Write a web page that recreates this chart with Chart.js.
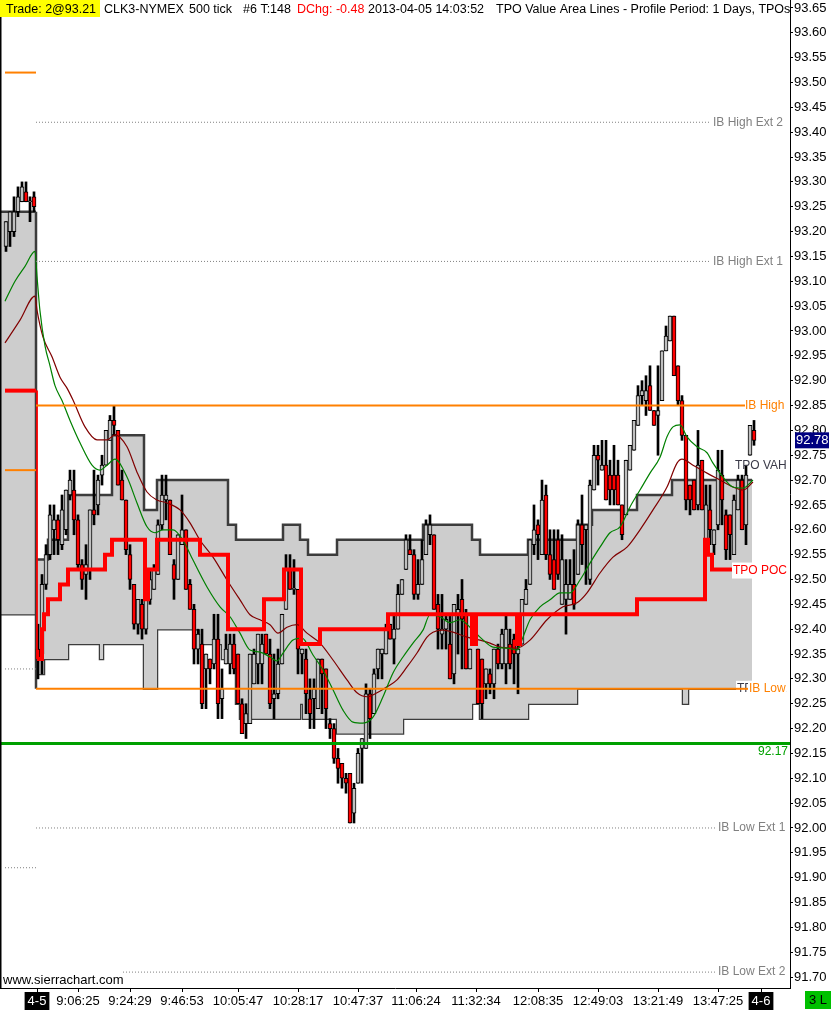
<!DOCTYPE html>
<html>
<head>
<meta charset="utf-8">
<script src="https://cdn.jsdelivr.net/npm/chart.js@4.4.1/dist/chart.umd.min.js"></script>
<style>
  html, body { margin: 0; padding: 0; background: #fff; }
  #wrap { width: 832px; height: 1010px; }
</style>
</head>
<body>
<div id="wrap"><canvas id="myChart"></canvas></div>
<script>
'use strict';
Chart.defaults.font.family = "'Liberation Sans', Arial, sans-serif";
Chart.defaults.font.size = 13;
Chart.defaults.color = '#000';

// 500 tick bars, index 0 = first bar of 2013-04-05 session, negatives = previous session
var firstBar = -8;
var open = [
  93.17, 93.20, 93.20, 93.24, 93.26, 93.28, 93.26, 93.27,
  92.36, 92.35, 92.49, 92.55, 92.60, 92.62, 92.57, 92.60, 92.67, 92.68,
  92.62, 92.53, 92.51, 92.52, 92.64, 92.65, 92.71, 92.73, 92.78, 92.82,
  92.80, 92.70, 92.66, 92.55, 92.49, 92.41, 92.45, 92.40, 92.46, 92.48,
  92.51, 92.61, 92.66, 92.66, 92.53, 92.50, 92.57, 92.60, 92.49, 92.44,
  92.36, 92.37, 92.32, 92.34, 92.33, 92.38, 92.26, 92.33, 92.33, 92.37,
  92.35, 92.25, 92.21, 92.21, 92.29, 92.33, 92.33, 92.39, 92.35, 92.26,
  92.27, 92.33, 92.44, 92.52, 92.48, 92.48, 92.35, 92.34, 92.26, 92.26,
  92.24, 92.34, 92.32, 92.21, 92.20, 92.14, 92.13, 92.10, 92.11, 92.03,
  92.09, 92.16, 92.16, 92.27, 92.23, 92.32, 92.35, 92.35, 92.41, 92.38,
  92.40, 92.47, 92.52, 92.56, 92.55, 92.47, 92.49, 92.55, 92.59, 92.59,
  92.45, 92.39, 92.40, 92.37, 92.31, 92.43, 92.46, 92.43, 92.32, 92.43,
  92.36, 92.34, 92.29, 92.31, 92.29, 92.36, 92.33, 92.33, 92.37, 92.38,
  92.35, 92.37, 92.45, 92.49, 92.57, 92.61, 92.55, 92.67, 92.55, 92.54,
  92.58, 92.45, 92.46, 92.46, 92.49, 92.51, 92.61, 92.60, 92.50, 92.68,
  92.75, 92.72, 92.73, 92.71, 92.71, 92.71, 92.65, 92.63, 92.72, 92.76,
  92.81, 92.87, 92.86, 92.89, 92.84, 92.83, 92.86, 92.96, 92.98, 93.03,
  92.93, 92.86, 92.79, 92.69, 92.70, 92.65, 92.74, 92.58, 92.64, 92.57,
  92.61, 92.71, 92.63, 92.63, 92.55, 92.64, 92.70, 92.61, 92.75, 92.80
];
var high = [
  93.22, 93.24, 93.27, 93.29, 93.30, 93.30, 93.27, 93.28,
  92.41, 92.51, 92.57, 92.65, 92.65, 92.63, 92.67, 92.68, 92.72, 92.72,
  92.63, 92.54, 92.57, 92.64, 92.72, 92.71, 92.75, 92.80, 92.83, 92.85,
  92.80, 92.72, 92.66, 92.57, 92.49, 92.46, 92.46, 92.46, 92.52, 92.53,
  92.62, 92.71, 92.71, 92.66, 92.54, 92.59, 92.67, 92.60, 92.50, 92.45,
  92.40, 92.40, 92.35, 92.34, 92.43, 92.43, 92.32, 92.39, 92.39, 92.39,
  92.35, 92.26, 92.25, 92.35, 92.36, 92.39, 92.39, 92.39, 92.38, 92.35,
  92.36, 92.43, 92.55, 92.55, 92.54, 92.48, 92.36, 92.36, 92.30, 92.30,
  92.34, 92.34, 92.32, 92.22, 92.21, 92.16, 92.13, 92.11, 92.11, 92.09,
  92.16, 92.18, 92.29, 92.28, 92.32, 92.36, 92.36, 92.41, 92.41, 92.43,
  92.49, 92.50, 92.59, 92.59, 92.56, 92.54, 92.58, 92.62, 92.63, 92.59,
  92.47, 92.47, 92.43, 92.43, 92.45, 92.47, 92.50, 92.44, 92.36, 92.43,
  92.36, 92.34, 92.32, 92.32, 92.36, 92.37, 92.40, 92.43, 92.40, 92.39,
  92.39, 92.46, 92.50, 92.58, 92.65, 92.62, 92.70, 92.69, 92.60, 92.60,
  92.60, 92.59, 92.54, 92.54, 92.56, 92.62, 92.67, 92.61, 92.70, 92.77,
  92.77, 92.78, 92.78, 92.74, 92.77, 92.74, 92.65, 92.74, 92.77, 92.82,
  92.89, 92.90, 92.91, 92.93, 92.84, 92.93, 92.96, 93.01, 93.03, 93.03,
  92.93, 92.87, 92.79, 92.69, 92.70, 92.80, 92.74, 92.69, 92.69, 92.60,
  92.76, 92.76, 92.64, 92.63, 92.67, 92.71, 92.71, 92.73, 92.81, 92.82
];
var low = [
  93.16, 93.17, 93.19, 93.23, 93.26, 93.26, 93.22, 93.24,
  92.30, 92.31, 92.48, 92.54, 92.55, 92.55, 92.56, 92.59, 92.66, 92.59,
  92.52, 92.48, 92.46, 92.50, 92.61, 92.63, 92.69, 92.73, 92.78, 92.79,
  92.69, 92.66, 92.55, 92.48, 92.40, 92.39, 92.38, 92.39, 92.45, 92.48,
  92.51, 92.60, 92.62, 92.55, 92.46, 92.50, 92.57, 92.48, 92.44, 92.33,
  92.33, 92.24, 92.24, 92.29, 92.32, 92.22, 92.22, 92.33, 92.31, 92.31,
  92.25, 92.19, 92.18, 92.21, 92.29, 92.29, 92.29, 92.35, 92.24, 92.22,
  92.26, 92.33, 92.44, 92.48, 92.47, 92.31, 92.31, 92.23, 92.20, 92.20,
  92.24, 92.23, 92.20, 92.18, 92.13, 92.09, 92.08, 92.07, 92.01, 92.01,
  92.09, 92.09, 92.16, 92.18, 92.23, 92.30, 92.30, 92.35, 92.38, 92.33,
  92.40, 92.47, 92.52, 92.55, 92.46, 92.46, 92.49, 92.55, 92.57, 92.44,
  92.36, 92.36, 92.36, 92.30, 92.29, 92.35, 92.32, 92.32, 92.32, 92.37,
  92.25, 92.22, 92.26, 92.27, 92.26, 92.32, 92.32, 92.29, 92.32, 92.29,
  92.27, 92.37, 92.45, 92.49, 92.55, 92.54, 92.55, 92.54, 92.50, 92.48,
  92.50, 92.45, 92.39, 92.46, 92.44, 92.51, 92.53, 92.49, 92.49, 92.68,
  92.69, 92.72, 92.66, 92.65, 92.65, 92.65, 92.58, 92.63, 92.72, 92.76,
  92.81, 92.85, 92.83, 92.84, 92.81, 92.75, 92.86, 92.96, 92.98, 92.91,
  92.85, 92.78, 92.64, 92.63, 92.64, 92.64, 92.64, 92.58, 92.57, 92.55,
  92.60, 92.61, 92.54, 92.54, 92.55, 92.64, 92.60, 92.57, 92.75, 92.77
];
var close = [
  93.22, 93.24, 93.24, 93.27, 93.29, 93.26, 93.26, 93.25,
  92.34, 92.49, 92.55, 92.63, 92.62, 92.58, 92.64, 92.68, 92.70, 92.62,
  92.53, 92.50, 92.53, 92.64, 92.63, 92.70, 92.73, 92.80, 92.82, 92.81,
  92.69, 92.66, 92.56, 92.50, 92.41, 92.46, 92.40, 92.46, 92.50, 92.52,
  92.61, 92.67, 92.67, 92.55, 92.50, 92.59, 92.60, 92.48, 92.44, 92.36,
  92.39, 92.25, 92.35, 92.32, 92.38, 92.25, 92.28, 92.36, 92.37, 92.32,
  92.25, 92.19, 92.23, 92.35, 92.35, 92.39, 92.37, 92.35, 92.25, 92.27,
  92.33, 92.43, 92.52, 92.48, 92.48, 92.36, 92.36, 92.27, 92.23, 92.28,
  92.34, 92.31, 92.24, 92.20, 92.14, 92.12, 92.10, 92.09, 92.01, 92.08,
  92.15, 92.18, 92.27, 92.22, 92.31, 92.36, 92.36, 92.40, 92.38, 92.40,
  92.47, 92.50, 92.58, 92.55, 92.47, 92.49, 92.54, 92.61, 92.61, 92.44,
  92.40, 92.40, 92.42, 92.30, 92.45, 92.44, 92.42, 92.32, 92.36, 92.37,
  92.25, 92.25, 92.32, 92.29, 92.36, 92.33, 92.39, 92.40, 92.33, 92.35,
  92.36, 92.46, 92.48, 92.58, 92.60, 92.59, 92.66, 92.55, 92.51, 92.48,
  92.51, 92.54, 92.49, 92.49, 92.45, 92.61, 92.57, 92.61, 92.69, 92.75,
  92.74, 92.73, 92.66, 92.68, 92.68, 92.65, 92.59, 92.74, 92.77, 92.82,
  92.87, 92.88, 92.88, 92.84, 92.81, 92.84, 92.96, 92.99, 93.03, 92.91,
  92.86, 92.79, 92.66, 92.66, 92.64, 92.73, 92.64, 92.65, 92.60, 92.60,
  92.72, 92.66, 92.56, 92.59, 92.66, 92.70, 92.60, 92.71, 92.81, 92.78
];

// developing TPO value area (step starts, bar index)
var vaIdx = [-0.25, 1.5, 2.5, 7.5, 15.5, 16.25, 18.5, 26.5, 29.75, 40.5, 46, 47.5, 49.5, 50.5, 61.25, 65.5,
  66.25, 67.5, 74.75, 91.25, 96.25, 108.5, 110.5, 122.5, 134.75, 138.5, 149.75, 158.5, 161.25, 162.5, 178.5];
var vaHigh = [92.54, 92.54, 92.58, 92.67, 92.67, 92.67, 92.79, 92.64, 92.70, 92.70, 92.70, 92.61, 92.58, 92.58, 92.61, 92.58,
  92.58, 92.55, 92.58, 92.58, 92.61, 92.58, 92.55, 92.58, 92.61, 92.64, 92.67, 92.70, 92.70, 92.70, 92.70];
var vaLow = [92.31, 92.34, 92.34, 92.37, 92.34, 92.37, 92.37, 92.28, 92.40, 92.37, 92.34, 92.34, 92.25, 92.22, 92.22, 92.25,
  92.22, 92.22, 92.19, 92.22, 92.22, 92.25, 92.22, 92.25, 92.28, 92.28, 92.28, 92.28, 92.25, 92.28, 92.28];

// developing TPO POC
var pocIdx = [-0.25, 1, 1.5, 2.5, 5.5, 7.5, 16.75, 18.5, 26.75, 27.5, 29.75, 40.5, 47.5, 56.5, 61.5, 65.75,
  70.5, 87.5, 108.5, 109.5, 119.75, 120.5, 149.75, 166.75, 167.5, 168.5, 173.75];
var pocVal = [92.34, 92.40, 92.43, 92.46, 92.49, 92.52, 92.55, 92.58, 92.46, 92.52, 92.58, 92.55, 92.40, 92.46, 92.52, 92.37,
  92.40, 92.43, 92.37, 92.43, 92.37, 92.43, 92.46, 92.58, 92.55, 92.52, 92.52];

// moving averages
var maFastIdx = [-8.25, -5.75, -3.25, -0.75, -0.25, 0.5, 1.75, 3, 4.25, 6, 8, 10.5, 13.5, 15.5, 17.25, 19.25, 22.25, 24.75,
  27.25, 29.25, 31.25, 33.75, 36.25, 38.75, 42.25, 45.5, 48, 50.5, 53, 55.5, 58, 59.75, 61.25, 63.75, 66, 68.75, 71.25,
  73.75, 76.25, 78.75, 81.25, 83.75, 86.25, 88.75, 91.25, 93.75, 96.25, 98, 100.5, 103, 105.5, 108, 110.5, 113.75,
  117.25, 119.75, 121.25, 123, 125.5, 128, 130.5, 133, 135.5, 138, 140.5, 143, 145.5, 148, 150.5, 153, 155.5, 157.25,
  158.75, 160.5, 162.25, 164.75, 167.25, 168.75, 171.25, 173.75, 176.25, 178.75];
var maFast = [93.06, 93.10, 93.13, 93.16, 93.11, 93.04, 92.97, 92.93, 92.89, 92.86, 92.82, 92.775, 92.73, 92.72, 92.73,
  92.742, 92.706, 92.654, 92.606, 92.594, 92.60, 92.60, 92.579, 92.539, 92.485, 92.445, 92.425, 92.392, 92.358, 92.354,
  92.344, 92.336, 92.352, 92.378, 92.382, 92.348, 92.318, 92.278, 92.237, 92.213, 92.211, 92.223, 92.264, 92.312,
  92.344, 92.372, 92.398, 92.429, 92.425, 92.413, 92.419, 92.404, 92.384, 92.364, 92.362, 92.358, 92.384, 92.419,
  92.445, 92.459, 92.473, 92.473, 92.499, 92.533, 92.565, 92.594, 92.606, 92.646, 92.68, 92.714, 92.746, 92.787,
  92.807, 92.811, 92.787, 92.767, 92.755, 92.734, 92.706, 92.686, 92.684, 92.70];
var maSlowIdx = [-8.25, -4.5, -0.75, -0.25, 1.25, 3.5, 5.5, 7.25, 8.75, 11.75, 14.75, 17.25, 19.25, 22.25, 24.75, 27.25,
  29.75, 32.25, 35.5, 38, 40.5, 43.75, 47.25, 50.5, 53, 55.5, 58, 60, 62.25, 64.75, 67.25, 70.5, 73.75, 77.25, 79.75,
  82.25, 84.75, 87.25, 89.75, 92.25, 94.75, 97.25, 98.75, 101.25, 103.75, 107.25, 110.5, 113, 115.5, 119.75, 123,
  127.25, 131.25, 134.75, 137.25, 140.5, 143.75, 147.25, 150.5, 153.75, 157.25, 159.75, 161, 163.75, 167.25, 170.5,
  173.75, 176.25, 178.75];
var maSlow = [92.976, 93.022, 93.07, 93.042, 92.988, 92.948, 92.907, 92.885, 92.861, 92.807, 92.781, 92.781, 92.791,
  92.767, 92.716, 92.676, 92.66, 92.654, 92.64, 92.614, 92.579, 92.545, 92.499, 92.459, 92.429, 92.419, 92.409, 92.392,
  92.404, 92.409, 92.392, 92.372, 92.338, 92.298, 92.272, 92.264, 92.272, 92.284, 92.298, 92.324, 92.352, 92.384,
  92.394, 92.398, 92.394, 92.384, 92.378, 92.372, 92.364, 92.362, 92.378, 92.419, 92.445, 92.453, 92.473, 92.513,
  92.545, 92.565, 92.60, 92.64, 92.686, 92.734, 92.742, 92.73, 92.714, 92.70, 92.686, 92.68, 92.696];

// initial balance levels for the session
var levelNames = ['IB High Ext 2', 'IB High Ext 1', 'IB High', 'IB Low', 'IB Low Ext 1', 'IB Low Ext 2'];
var levelPrices = [93.42, 93.14, 92.85, 92.28, 92.00, 91.71];
var levelEnds = [168, 168, 176.75, 177.75, 169.25, 169.25];
var supportPrice = 92.17;

// previous session
var prevProfile = [93.24, 92.43];
var prevIbLevels = [93.52, 92.72];
var prevExtLevels = [92.32, 91.92];
var prevPoc = 92.88;

// x axis labels
var timeIdx = [-0.25, 10, 23, 36, 50, 65, 80, 94.5, 109.5, 125, 140, 155, 170, 180.75];
var timeText = ['4-5', '9:06:25', '9:24:29', '9:46:53', '10:05:47', '10:28:17', '10:47:37', '11:06:24',
  '11:32:34', '12:08:35', '12:49:03', '13:21:49', '13:47:25', '4-6'];

var wicks = [], bodies = [];
for (var i = 0; i < open.length; i++) {
  wicks.push({x: firstBar + i, y: [low[i], high[i]]});
  bodies.push({x: firstBar + i, y: [open[i], close[i]], up: close[i] >= open[i]});
}

function pts(xs, ys) {
  return xs.map(function (x, k) { return {x: x, y: ys[k]}; });
}
function hline(price, from, to) {
  return [{x: from, y: price}, {x: to, y: price}];
}
function line(data, color, width, extra) {
  return Object.assign({
    type: 'line', data: data, borderColor: color, borderWidth: width,
    pointRadius: 0, fill: false, tension: 0
  }, extra || {});
}

var OUTLINE = '#3c3c3c', SHADE = '#cdcdcd', ORANGE = '#ff8000', GRAY = '#808080', LABEL = '#3a3a48';

var datasets = [
  line(hline(prevProfile[0], -9.5, -0.5), OUTLINE, 2.5, {fill: '+1', backgroundColor: SHADE, order: 30}),
  line(hline(prevProfile[1], -9.5, -0.5), OUTLINE, 2.5, {order: 31}),
  line(pts(vaIdx, vaHigh), OUTLINE, 2.5, {stepped: true, fill: '+1', backgroundColor: SHADE, order: 20}),
  line(pts(vaIdx, vaLow), OUTLINE, 2.5, {stepped: true, order: 21}),
  line([{x: -0.5, y: prevProfile[0]}, {x: -0.5, y: levelPrices[3]}], OUTLINE, 2.5, {order: 19}),
  {
    type: 'bar', data: wicks, backgroundColor: '#000', barThickness: 2, grouped: false, order: 12
  },
  {
    type: 'bar', data: bodies, barThickness: 4, grouped: false, order: 11,
    borderWidth: 1, borderColor: '#000', borderSkipped: false, minBarLength: 1,
    backgroundColor: function (c) { return c.raw && c.raw.up ? '#c0c0c0' : '#ff0000'; }
  },
  line(pts(maSlowIdx, maSlow), '#800000', 1.2, {cubicInterpolationMode: 'monotone', order: 9}),
  line(pts(maFastIdx, maFast), '#008000', 1.2, {cubicInterpolationMode: 'monotone', order: 8}),
  line(hline(prevPoc, -8.25, -0.5), '#ff0000', 4, {order: 6}),
  line([{x: -0.25, y: prevPoc}, {x: -0.25, y: pocVal[0]}], '#ff0000', 1, {order: 6}),
  line(pts(pocIdx, pocVal), '#ff0000', 4, {stepped: true, order: 5}),
  line(hline(supportPrice, -9.5, 188), '#00a000', 3, {order: 1})
];
prevIbLevels.forEach(function (p) {
  datasets.push(line(hline(p, -8.25, -0.5), ORANGE, 2, {order: 2}));
});
prevExtLevels.forEach(function (p) {
  datasets.push(line(hline(p, -8.25, -0.5), GRAY, 1, {borderDash: [1, 2], order: 2}));
});
levelNames.forEach(function (name, k) {
  var ext = name.indexOf('Ext') >= 0;
  datasets.push(line(hline(levelPrices[k], -0.5, levelEnds[k]), ext ? GRAY : ORANGE, ext ? 1 : 2,
    ext ? {borderDash: [1, 2], order: 2} : {order: 2}));
});

function text(ctx, s, x, y, color, bg) {
  if (bg) {
    var w = ctx.measureText(s).width;
    ctx.fillStyle = '#fff';
    ctx.fillRect(x - 1, y - 8, w + 2, 16);
  }
  ctx.fillStyle = color;
  ctx.fillText(s, x, y);
}
var LABEL_FONT = "12px 'Liberation Sans', Arial, sans-serif";

var overlay = {
  id: 'overlay',
  afterDatasetsDraw: function (chart) {
    var ctx = chart.ctx, xs = chart.scales.x, ys = chart.scales.y, area = chart.chartArea;
    ctx.save();
    ctx.font = LABEL_FONT;
    ctx.textBaseline = 'middle';
    ctx.textAlign = 'left';
    levelNames.forEach(function (name, k) {
      var y = ys.getPixelForValue(levelPrices[k]);
      if (name === 'IB Low') {
        // value area low label sits under the IB Low line end and label
        var x0 = xs.getPixelForValue(174.75), x1 = xs.getPixelForValue(levelEnds[k]);
        text(ctx, 'TPO VAL', x0, y, LABEL, true);
        ctx.strokeStyle = ORANGE;
        ctx.lineWidth = 2;
        ctx.beginPath();
        ctx.moveTo(x0 - 1, y);
        ctx.lineTo(x1, y);
        ctx.stroke();
        text(ctx, name, x1, y, ORANGE, true);
      } else if (name === 'IB High') {
        text(ctx, name, xs.getPixelForValue(levelEnds[k]), y, ORANGE, false);
      } else {
        text(ctx, name, xs.getPixelForValue(levelEnds[k] + 0.75), y, GRAY, false);
      }
    });
    text(ctx, 'TPO VAH', xs.getPixelForValue(174.25), ys.getPixelForValue(vaHigh[vaHigh.length - 1]) - 14, LABEL, false);
    text(ctx, 'TPO POC', xs.getPixelForValue(173.75), ys.getPixelForValue(pocVal[pocVal.length - 1]) + 1, '#ff0000', true);
    ctx.textAlign = 'right';
    text(ctx, supportPrice.toFixed(2), area.right - 2, ys.getPixelForValue(supportPrice) + 8, '#00a000', false);
    ctx.restore();
  },
  afterDraw: function (chart) {
    var ctx = chart.ctx, ys = chart.scales.y, area = chart.chartArea;
    ctx.save();
    // chart frame left edge
    ctx.strokeStyle = '#000';
    ctx.lineWidth = 1.5;
    ctx.beginPath();
    ctx.moveTo(0.75, 0);
    ctx.lineTo(0.75, area.bottom);
    ctx.stroke();

    ctx.textBaseline = 'middle';
    ctx.textAlign = 'left';
    ctx.save();
    ctx.beginPath();
    ctx.rect(0, 0, area.right, 24);
    ctx.clip();
    ctx.fillStyle = '#ffff00';
    ctx.fillRect(0, 0, 100, 17);
    ctx.font = "12.5px 'Liberation Sans', Arial, sans-serif";
    var header = [
      ['Trade: 2@93.21', 6, '#000'],
      ['CLK3-NYMEX', 104, '#000'],
      ['500 tick', 189, '#000'],
      ['#6 T:148', 243, '#000'],
      ['DChg: -0.48', 297, '#ff0000'],
      ['2013-04-05 14:03:52', 368, '#000'],
      ['TPO Value Area Lines - Profile Period: 1 Days, TPOs', 496, '#000']
    ];
    header.forEach(function (h) { ctx.fillStyle = h[2]; ctx.fillText(h[0], h[1], 9.5); });
    ctx.restore();

    ctx.font = "13px 'Liberation Sans', Arial, sans-serif";
    ctx.fillStyle = '#fff';
    ctx.fillRect(2, 971, 120, area.bottom - 972);
    ctx.fillStyle = '#000';
    ctx.fillText('www.sierrachart.com', 3, 980);

    // last price marker
    var lp = close[close.length - 1];
    var y = ys.getPixelForValue(lp);
    ctx.fillStyle = '#000080';
    ctx.fillRect(795, y - 8, 34, 16);
    ctx.fillStyle = '#fff';
    ctx.fillText(lp.toFixed(2), 796, y);

    // bar period box
    ctx.fillStyle = '#00c000';
    ctx.fillRect(805, area.bottom + 3, 26, 18);
    ctx.fillStyle = '#000';
    ctx.textAlign = 'center';
    ctx.fillText('3 L', 818, area.bottom + 12);
    ctx.restore();
  }
};

var ctx = document.getElementById('myChart').getContext('2d');
var myChart = new Chart(ctx, {
  type: 'bar',
  data: {datasets: datasets},
  options: {
    responsive: true,
    maintainAspectRatio: false,
    animation: false,
    events: [],
    layout: {padding: 0},
    plugins: {legend: {display: false}, tooltip: {enabled: false}},
    scales: {
      x: {
        type: 'linear', min: -9.5, max: 188, offset: false,
        grid: {drawOnChartArea: false, drawTicks: true, tickLength: 4, color: '#000', offset: false},
        border: {display: true, color: '#000', width: 1},
        ticks: {
          autoSkip: false, maxRotation: 0, padding: 2,
          showLabelBackdrop: true,
          backdropPadding: {top: 2, bottom: 1, left: 3, right: 3},
          backdropColor: function (c) { return c.index === 0 || c.index === timeText.length - 1 ? '#000' : 'rgba(0,0,0,0)'; },
          color: function (c) { return c.index === 0 || c.index === timeText.length - 1 ? '#fff' : '#000'; },
          callback: function (v, i) { return timeText[i]; }
        },
        afterBuildTicks: function (scale) {
          scale.ticks = timeIdx.map(function (v) { return {value: v}; });
        },
        afterFit: function (scale) {
          scale.height = 22;
          scale.paddingLeft = 0;
          scale.paddingRight = 0;
        }
      },
      y: {
        type: 'linear', position: 'right', min: 91.678, max: 93.666,
        grid: {drawOnChartArea: false, drawTicks: true, tickLength: 3, color: '#000'},
        border: {display: true, color: '#000', width: 1},
        ticks: {
          stepSize: 0.05, includeBounds: false, autoSkip: false, padding: 1,
          callback: function (v) { return v.toFixed(2); }
        },
        afterFit: function (scale) {
          scale.width = 42;
          scale.paddingTop = 0;
          scale.paddingBottom = 0;
        }
      }
    }
  },
  plugins: [overlay]
});
</script>
</body>
</html>
